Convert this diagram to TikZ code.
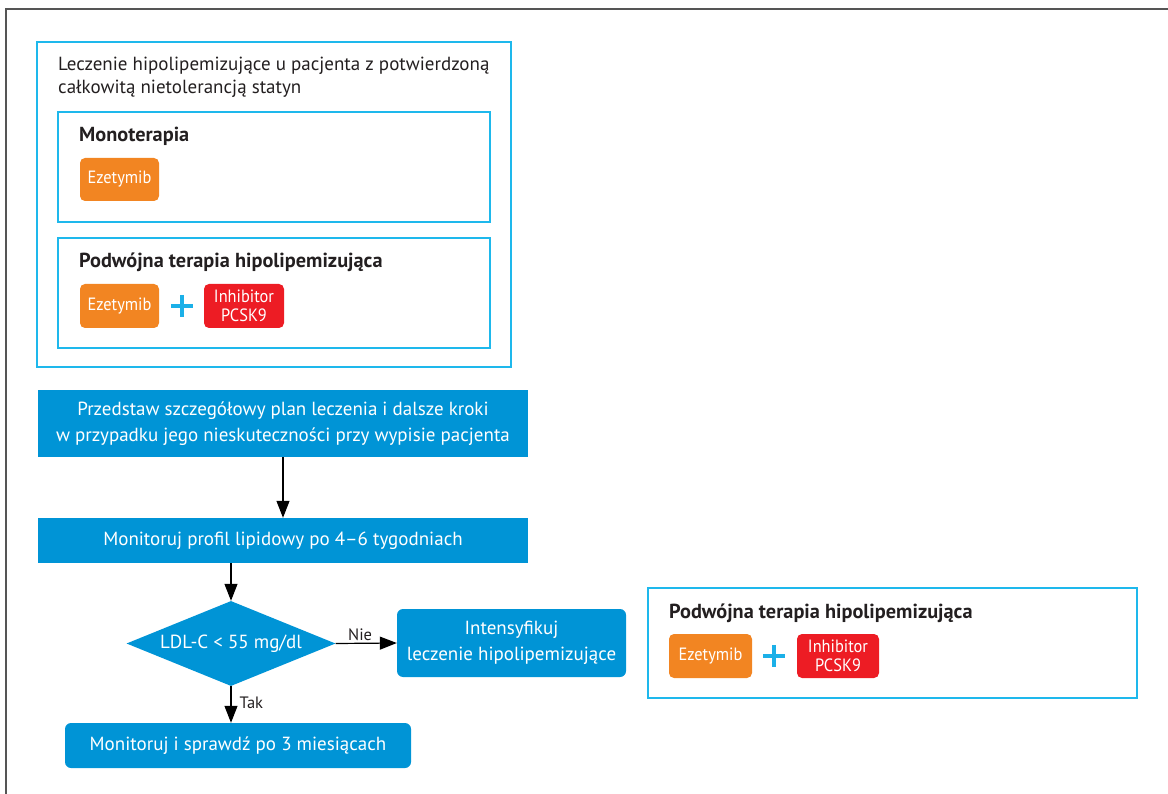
\documentclass[tikz,border=0pt]{standalone}
\usepackage{fontspec}
\setmainfont{PT Sans}
\newfontfamily\drugfont[FakeStretch=0.92]{PT Sans}
\usetikzlibrary{arrows.meta,shapes.geometric}
\definecolor{flowblue}{RGB}{0,148,214}
\definecolor{cyanline}{RGB}{30,184,236}
\definecolor{plusblue}{RGB}{27,176,232}
\definecolor{drugorange}{RGB}{242,133,34}
\definecolor{drugred}{RGB}{237,28,36}
\definecolor{txt}{RGB}{35,31,32}
\definecolor{framegray}{RGB}{85,85,85}
\newcommand\fsz[2]{\fontsize{#1}{#2}\selectfont}
\begin{document}
\begin{tikzpicture}[x=1pt,y=-1pt,
  cyanframe/.style={draw=cyanline,line width=2pt,inner sep=0},
  heading/.style={font=\fsz{20.3}{23}\bfseries,text=txt,inner sep=0},
  drug/.style={rounded corners=5pt,text=white,align=center,inner sep=0,font=\drugfont\fsz{17.8}{18.5}},
  flowbox/.style={fill=flowblue,text=white,align=center,inner sep=0,font=\fsz{19}{26}},
  roundbox/.style={flowbox,rounded corners=6pt},
  decision/.style={diamond,aspect=2.46,fill=flowblue,text=white,inner sep=0,font=\fsz{19}{22}},
  plusline/.style={draw=plusblue,line width=4.8pt},
  arr/.style={draw=black,line width=1.2pt,-{Triangle[length=17pt,width=13pt]}},
  lbl/.style={font=\fsz{16.5}{18},text=txt,inner sep=2pt}
]
\useasboundingbox (0,0) rectangle (1168,794);
\draw[framegray,line width=2pt] (6,800) -- (6,9) -- (1175,9);

% top container
\node[cyanframe,minimum width=474,minimum height=325] (outer) at (274,204.5) {};
\node[anchor=west,align=left,inner sep=0,font=\fsz{19}{23},text=txt] (title) at (58,77.5)
  {Leczenie hipolipemizujące u pacjenta z potwierdzoną\\całkowitą nietolerancją statyn};

\node[cyanframe,minimum width=432,minimum height=110] (mono) at (274,167) {};
\node[heading,anchor=base west] (monoh) at (79,142) {Monoterapia};
\node[drug,fill=drugorange,minimum width=79,minimum height=43] (eze1) at (119.5,179.5) {Ezetymib};

\node[cyanframe,minimum width=432,minimum height=110] (dual) at (274,293) {};
\node[heading,anchor=base west] (dualh) at (79,268) {Podwójna terapia hipolipemizująca};
\node[drug,fill=drugorange,minimum width=79,minimum height=44] (eze2) at (119.5,306) {Ezetymib};
\node[inner sep=0,minimum size=22] (plus1) at (182,306) {};
\draw[plusline] (plus1.west) -- (plus1.east) (plus1.north) -- (plus1.south);
\node[drug,fill=drugred,minimum width=80,minimum height=44] (inh1) at (244,306) {Inhibitor\\PCSK9};

% right box
\node[cyanframe,minimum width=489,minimum height=110] (right) at (892.5,643) {};
\node[heading,anchor=base west] (righth) at (669,618) {Podwójna terapia hipolipemizująca};
\node[drug,fill=drugorange,minimum width=83,minimum height=44] (eze3) at (710.5,656) {Ezetymib};
\node[inner sep=0,minimum size=22] (plus2) at (774,656) {};
\draw[plusline] (plus2.west) -- (plus2.east) (plus2.north) -- (plus2.south);
\node[drug,fill=drugred,minimum width=82,minimum height=44] (inh2) at (838,656) {Inhibitor\\PCSK9};

% flow
\node[flowbox,minimum width=490,minimum height=67] (plan) at (283,423.5)
  {Przedstaw szczegółowy plan leczenia i dalsze kroki\\w przypadku jego nieskuteczności przy wypisie pacjenta};
\node[flowbox,minimum width=490,minimum height=45] (lipid) at (283,540.5)
  {Monitoruj profil lipidowy po 4–6 tygodniach};
\node[decision,minimum width=209,minimum height=85] (dia) at (231,643.5) {LDL-C < 55 mg/dl};
\node[roundbox,minimum width=229,minimum height=68] (intens) at (511.5,643)
  {Intensyfikuj\\leczenie hipolipemizujące};
\node[roundbox,minimum width=346,minimum height=45] (check) at (238,745.5)
  {Monitoruj i sprawdź po 3 miesiącach};

\draw[arr] (plan) -- (lipid);
\draw[arr] (dia.north |- lipid.south) -- (dia.north);
\draw[arr] (dia.east) -- node[lbl,above,pos=0.4] (nie) {Nie} (intens.west);
\draw[arr] (dia.south) -- node[lbl,right,pos=0.45,xshift=6pt] (tak) {Tak} (dia.south |- check.north);
\end{tikzpicture}
\end{document}
